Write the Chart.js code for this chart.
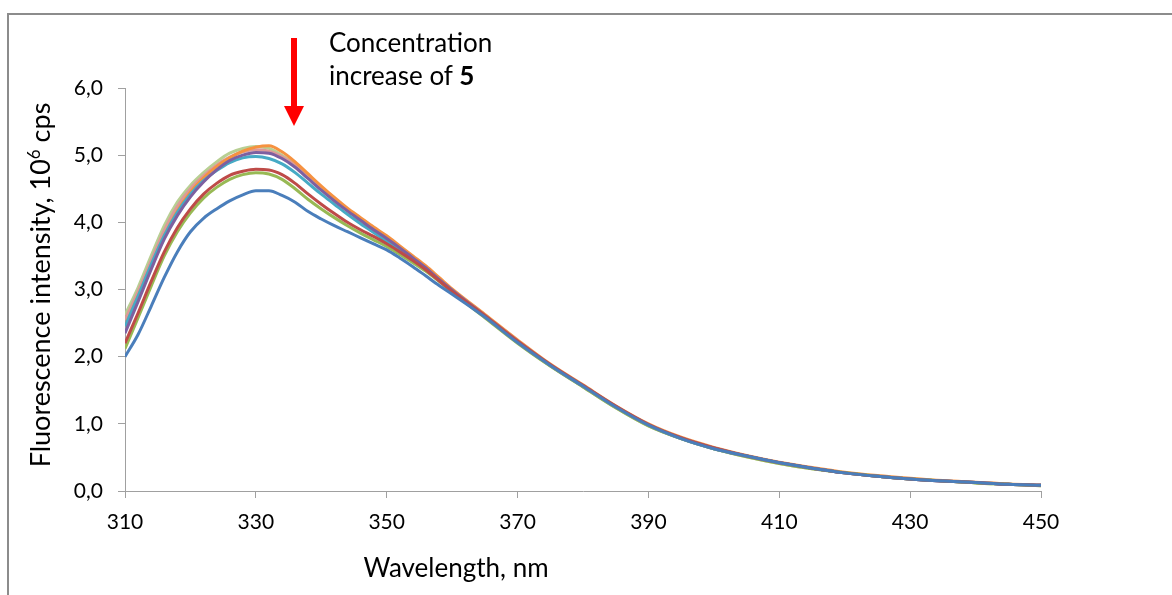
<!DOCTYPE html>
<html>
<head>
<meta charset="utf-8">
<script src="https://cdn.jsdelivr.net/npm/chart.js@4.4.1/dist/chart.umd.min.js"></script>
<style>
  html, body { margin: 0; padding: 0; background: #fff; }
  body { width: 1172px; height: 595px; position: relative; overflow: hidden; font-family: Lato, "Noto Sans", sans-serif; }
  #frame { position: absolute; left: 7px; top: 13px; width: 1180px; height: 600px; border-top: 2px solid #8c8c8c; border-left: 2px solid #8c8c8c; }
  #c { position: absolute; left: 0; top: 0; }
  .note { position: absolute; left: 329px; top: 26px; font-size: 26px; line-height: 33px; color: #000; }
  .xtitle { position: absolute; left: 256px; width: 400px; top: 552px; text-align: center; font-size: 26px; line-height: 30px; }
  .ytitle { position: absolute; left: -160px; width: 400px; top: 270px; text-align: center; font-size: 27px; line-height: 30px; transform: rotate(-90deg); }
  .ytitle sup { font-size: 17px; vertical-align: 10px; line-height: 0; }
  #arrow { position: absolute; left: 0; top: 0; }
</style>
</head>
<body>
<div id="frame"></div>
<canvas id="c" width="1172" height="595"></canvas>
<svg id="arrow" width="1172" height="595">
  <rect x="291" y="38" width="6" height="70" fill="#ff0000"></rect>
  <polygon points="284,106 304,106 294,126" fill="#ff0000"></polygon>
</svg>
<div class="note">Concentration<br>increase of <b>5</b></div>
<div class="xtitle">Wavelength, nm</div>
<div class="ytitle">Fluorescence intensity, 10<sup>6</sup> cps</div>
<script>
// wavelengths (nm) and intensities (10^6 cps)
const wavelengths = [310,312,314,316,318,320,322,324,326,328,330,332,334,336,338,340,342,344,346,348,350,352,354,356,358,360,
  365,370,375,380,385,390,395,400,405,410,415,420,425,430,435,440,445,450];

const blueSeries = [2.0,2.33,2.75,3.18,3.56,3.86,4.06,4.2,4.32,4.41,4.47,4.47,4.4,4.3,4.16,4.05,3.95,3.86,3.77,3.68,3.59,3.47,3.34,3.2,3.06,2.93,
  2.59,2.21,1.87,1.56,1.25,0.98,0.78,0.63,0.52,0.42,0.34,0.27,0.22,0.18,0.15,0.125,0.1,0.085];
const redSeries = [2.2,2.65,3.12,3.56,3.92,4.2,4.42,4.58,4.7,4.76,4.79,4.78,4.71,4.58,4.42,4.27,4.13,4.0,3.89,3.79,3.68,3.56,3.43,3.29,3.13,2.97,
  2.61,2.23,1.88,1.57,1.26,0.99,0.79,0.64,0.52,0.42,0.34,0.27,0.22,0.18,0.15,0.125,0.1,0.085];
const greenSeries = [2.12,2.58,3.05,3.5,3.86,4.14,4.36,4.52,4.64,4.71,4.74,4.72,4.64,4.5,4.34,4.2,4.07,3.95,3.84,3.74,3.64,3.52,3.4,3.27,3.12,2.96,
  2.58,2.2,1.86,1.55,1.24,0.97,0.78,0.63,0.51,0.41,0.33,0.27,0.22,0.18,0.15,0.12,0.1,0.08];
const purpleSeries = [2.35,2.82,3.3,3.75,4.1,4.38,4.6,4.78,4.92,5.0,5.04,5.03,4.95,4.82,4.65,4.48,4.32,4.17,4.03,3.89,3.76,3.62,3.47,3.32,3.15,2.99,
  2.61,2.23,1.88,1.57,1.26,0.99,0.79,0.64,0.52,0.42,0.34,0.27,0.22,0.18,0.15,0.125,0.1,0.085];
const cyanSeries = [2.45,2.9,3.37,3.8,4.15,4.42,4.62,4.77,4.89,4.96,4.98,4.95,4.87,4.74,4.58,4.42,4.27,4.12,3.98,3.85,3.72,3.59,3.45,3.3,3.14,2.97,
  2.6,2.22,1.87,1.56,1.25,0.98,0.78,0.63,0.52,0.42,0.34,0.27,0.22,0.18,0.15,0.125,0.1,0.085];
const orangeSeries = [2.45,2.9,3.36,3.8,4.17,4.45,4.66,4.83,4.96,5.06,5.12,5.14,5.05,4.9,4.72,4.54,4.37,4.21,4.07,3.93,3.8,3.65,3.5,3.35,3.18,3.01,
  2.63,2.25,1.89,1.58,1.27,1.0,0.8,0.65,0.53,0.43,0.35,0.28,0.23,0.19,0.155,0.13,0.105,0.09];
const pinkSeries = [2.55,2.97,3.43,3.88,4.24,4.5,4.69,4.85,4.97,5.05,5.08,5.06,4.98,4.85,4.68,4.5,4.33,4.18,4.03,3.89,3.76,3.62,3.47,3.32,3.15,2.98,
  2.6,2.22,1.87,1.56,1.25,0.98,0.78,0.63,0.52,0.42,0.34,0.27,0.22,0.18,0.15,0.125,0.1,0.085];
const lightGreenSeries = [2.62,3.03,3.5,3.95,4.3,4.55,4.74,4.9,5.03,5.1,5.13,5.1,5.0,4.86,4.68,4.5,4.33,4.18,4.04,3.9,3.77,3.63,3.48,3.33,3.16,2.99,
  2.6,2.21,1.86,1.55,1.24,0.97,0.78,0.63,0.51,0.41,0.33,0.27,0.22,0.18,0.15,0.12,0.1,0.08];

const yTicks = [0,1,2,3,4,5,6];
const xTicks = [310,330,350,370,390,410,430,450];

const allSeries = [
  [blueSeries, "#4a7ebb"],
  [redSeries, "#be4b48"],
  [greenSeries, "#98b954"],
  [purpleSeries, "#7d60a0"],
  [cyanSeries, "#46aac5"],
  [orangeSeries, "#f69240"],
  [pinkSeries, "#dc9a98"],
  [lightGreenSeries, "#b8cf93"],
];

const datasets = allSeries.map(function (s) {
  return {
    data: wavelengths.map(function (w, i) { return { x: w, y: s[0][i] }; }),
    borderColor: s[1],
    borderWidth: 3,
    pointRadius: 0,
    cubicInterpolationMode: "monotone",
    fill: false,
  };
});

const axisGray = "#a0a0a0";
const tickFont = { family: "Lato", size: 21 };

new Chart(document.getElementById("c"), {
  type: "line",
  data: { datasets: datasets },
  options: {
    responsive: false,
    animation: false,
    layout: { padding: { left: 0, top: 88, right: 131, bottom: 0 } },
    plugins: { legend: { display: false }, tooltip: { enabled: false } },
    scales: {
      x: {
        type: "linear",
        min: 310,
        max: 450,
        afterBuildTicks: function (axis) { axis.ticks = xTicks.map(function (v) { return { value: v }; }); },
        afterFit: function (axis) { axis.height = 104; },
        ticks: { color: "#000", font: tickFont, padding: 12, maxRotation: 0 },
        grid: { drawOnChartArea: false, tickLength: 7, color: axisGray },
        border: { color: axisGray, width: 1 },
      },
      y: {
        min: 0,
        max: 6,
        afterBuildTicks: function (axis) { axis.ticks = yTicks.map(function (v) { return { value: v }; }); },
        afterFit: function (axis) { axis.width = 125; },
        ticks: {
          color: "#000",
          font: tickFont,
          padding: 15,
          callback: function (v) { return v.toFixed(1).replace(".", ","); },
        },
        grid: { drawOnChartArea: false, tickLength: 7, color: axisGray },
        border: { color: axisGray, width: 1 },
      },
    },
  },
});
</script>
</body>
</html>
